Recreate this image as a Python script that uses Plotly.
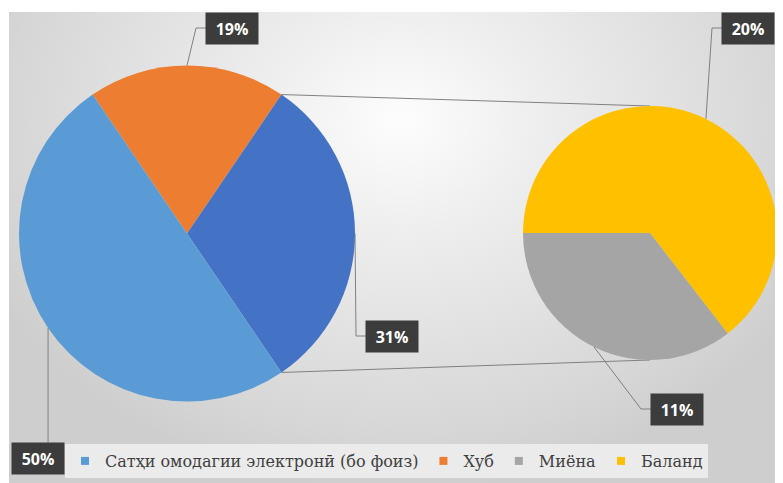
import math
import plotly.graph_objects as go

# data
categories = ["Сатҳи омодагии электронӣ (бо фоиз)", "Хуб", "Миёна", "Баланд"]
shares = [50, 19, 11, 20]
colors = ["#5B9BD5", "#ED7D31", "#A5A5A5", "#FFC000"]
other_color = "#4472C4"

W, H = 783, 483
OFF = 8  # page body margin, everything below is in screen pixels
main_c, main_r = (187, 233.5), 168
sec_c, sec_r = (650, 233), 127
# label box centres
box_pos = {"Хуб": (232, 28), "other": (392, 336), categories[0]: (38, 458),
           "Баланд": (748, 28), "Миёна": (677, 409)}
BW, BH = 52, 31


def pt(c, r, ang):
    a = math.radians(ang)
    return c[0] + r * math.sin(a), c[1] - r * math.cos(a)


def dom(c, r):
    return dict(x=[(c[0] - r - OFF) / W, (c[0] + r - OFF) / W],
                y=[1 - (c[1] + r - OFF) / H, 1 - (c[1] - r - OFF) / H])


v = dict(zip(categories, shares))
other = v["Миёна"] + v["Баланд"]

main_labels = ["Хуб", "other", categories[0]]
main_vals = [v["Хуб"], other, v[categories[0]]]
main_cols = [colors[1], other_color, colors[0]]
main_rot = -main_vals[0] * 1.8

sec_labels = ["Баланд", "Миёна"]
sec_vals = [v["Баланд"], v["Миёна"]]
sec_cols = [colors[3], colors[2]]
sec_rot = 270

fig = go.Figure()

# background panel (clipped to the plot area)
fig.add_trace(go.Scatter(
    x=[-60, 860, 860, -60, -60], y=[-250, -250, 491, 491, -250], mode="lines", fill="toself",
    line=dict(width=0), hoverinfo="skip", showlegend=False,
    fillgradient=dict(type="radial",
                      colorscale=[[0, "#fdfdfd"], [0.3, "#eeeeee"], [0.85, "#d6d6d6"], [1, "#cecece"]])))

# connector lines
a_top = main_rot + main_vals[0] * 3.6
a_bot = a_top + other * 3.6
for a, b in [(a_top, 0), (a_bot, 180)]:
    p1 = pt(main_c, main_r, a)
    p2 = pt(sec_c, sec_r, b)
    fig.add_trace(go.Scatter(x=[p1[0], p2[0]], y=[p1[1], p2[1]], mode="lines",
                             line=dict(color="#808080", width=1),
                             hoverinfo="skip", showlegend=False))

# legend entries
for name, col in zip(categories, colors):
    fig.add_trace(go.Scatter(x=[None], y=[None], mode="markers", name=name,
                             marker=dict(symbol="square", size=8, color=col)))

fig.add_trace(go.Pie(values=main_vals, labels=main_labels, sort=False,
                     direction="clockwise", rotation=main_rot,
                     marker=dict(colors=main_cols, line=dict(width=0)),
                     textinfo="none", hoverinfo="skip", showlegend=False,
                     domain=dom(main_c, main_r)))
fig.add_trace(go.Pie(values=sec_vals, labels=sec_labels, sort=False,
                     direction="clockwise", rotation=sec_rot,
                     marker=dict(colors=sec_cols, line=dict(width=0)),
                     textinfo="none", hoverinfo="skip", showlegend=False,
                     domain=dom(sec_c, sec_r)))

# data labels with elbow leader lines
anns = []
start = main_rot
for lab, val in zip(main_labels, main_vals):
    mid = start + val * 1.8
    start += val * 3.6
    anns.append((lab, val, pt(main_c, main_r, mid)))
start = sec_rot
tot = sum(sec_vals)
for lab, val in zip(sec_labels, sec_vals):
    span = val / tot * 360
    mid = start + span / 2
    start += span
    anns.append((lab, val, pt(sec_c, sec_r, mid)))

for lab, val, tip in anns:
    bx, by = box_pos[lab]
    if bx - BW / 2 > tip[0]:
        path = [tip, (bx - BW / 2 - 10, by), (bx - BW / 2, by)]
    else:
        path = [tip, (tip[0], by - BH / 2)]
    fig.add_trace(go.Scatter(x=[p[0] for p in path], y=[p[1] for p in path], mode="lines",
                             line=dict(color="#808080", width=1),
                             hoverinfo="skip", showlegend=False))
    fig.add_annotation(x=bx, y=by, xref="x", yref="y", showarrow=False,
                       text=f"<b>{val}%</b>", width=BW, height=BH,
                       bgcolor="#3c3c3c", borderpad=0,
                       font=dict(family="Open Sans", size=16, color="white"))

fig.update_layout(
    width=W, height=H, margin=dict(l=0, r=0, t=0, b=0),
    paper_bgcolor="white", plot_bgcolor="rgba(0,0,0,0)",
    xaxis=dict(domain=[(9 - OFF) / W, 1], range=[9, W + OFF], visible=False, fixedrange=True),
    yaxis=dict(domain=[0, 1 - (12 - OFF) / H], range=[H + OFF, 12], visible=False, fixedrange=True),
    legend=dict(orientation="h", x=(65 - OFF) / W, y=1 - (444 - OFF) / H,
                xanchor="left", yanchor="top", bgcolor="#ebebeb",
                font=dict(family="DejaVu Serif", size=16, color="#404040"),
                itemclick=False, itemdoubleclick=False),
)

fig.write_html("out.html")
